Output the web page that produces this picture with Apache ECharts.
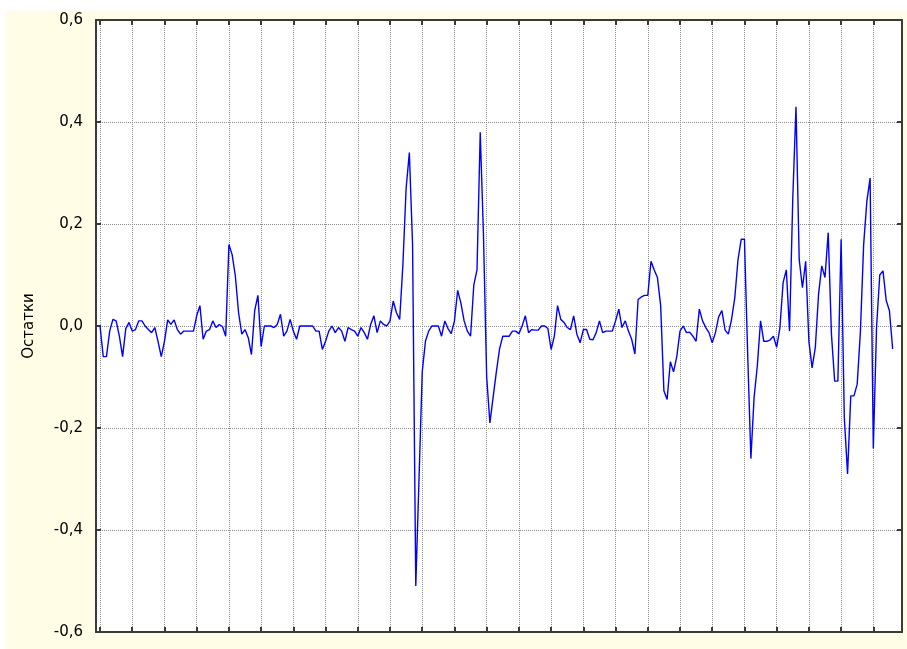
<!DOCTYPE html>
<html>
<head>
<meta charset="utf-8">
<script src="https://cdn.jsdelivr.net/npm/echarts@6/dist/echarts.min.js"></script>
<style>
html,body{margin:0;padding:0;background:#ffffff;}
#wrap{position:relative;width:907px;height:649px;background:#ffffff;overflow:hidden;}
#chart{position:absolute;left:6px;top:11px;width:901px;height:638px;}
</style>
</head>
<body>
<div id="wrap"><div id="chart"></div></div>
<script>
const residuals = [
  0.0, -0.06, -0.06, -0.01, 0.013, 0.01, -0.02, -0.06, -0.005, 0.007,
  -0.01, -0.007, 0.01, 0.01, 0.0, -0.007, -0.013, -0.003, -0.03, -0.06,
  -0.03, 0.012, 0.003, 0.012, -0.007, -0.016, -0.01, -0.01, -0.01, -0.01,
  0.02, 0.04, -0.026, -0.01, -0.007, 0.01, -0.003, 0.003, -0.001, -0.02,
  0.16, 0.14, 0.098, 0.026, -0.016, -0.007, -0.023, -0.056, 0.03, 0.06,
  -0.04, 0.0, 0.0, 0.0, -0.003, 0.003, 0.023, -0.02, -0.01, 0.013,
  -0.01, -0.026, 0.0, 0.0, 0.0, 0.0, 0.0, -0.01, -0.01, -0.046,
  -0.03, -0.01, 0.0, -0.013, -0.003, -0.01, -0.03, -0.003, -0.007, -0.01,
  -0.02, -0.003, -0.013, -0.026, 0.003, 0.02, -0.013, 0.01, 0.003, 0.0,
  0.01, 0.049, 0.026, 0.013, 0.12, 0.27, 0.34, 0.16, -0.51, -0.3,
  -0.09, -0.03, -0.01, 0.0, 0.0, 0.0, -0.02, 0.01, -0.005, -0.015,
  0.01, 0.07, 0.045, 0.01, -0.01, -0.02, 0.08, 0.11, 0.38, 0.18,
  -0.1, -0.19, -0.14, -0.09, -0.045, -0.02, -0.02, -0.02, -0.01, -0.01,
  -0.015, 0.0, 0.02, -0.013, -0.007, -0.008, -0.008, 0.0, 0.0, -0.005,
  -0.046, -0.02, 0.04, 0.013, 0.007, -0.003, -0.007, 0.02, -0.016, -0.033,
  -0.007, -0.007, -0.026, -0.027, -0.013, 0.01, -0.013, -0.01, -0.01, -0.01,
  0.01, 0.033, -0.003, 0.01, -0.01, -0.026, -0.055, 0.052, 0.057, 0.06,
  0.06, 0.127, 0.11, 0.095, 0.04, -0.127, -0.144, -0.07, -0.09, -0.06,
  -0.01, 0.0, -0.013, -0.012, -0.02, -0.03, 0.033, 0.01, -0.003, -0.013,
  -0.033, -0.013, 0.018, 0.03, -0.008, -0.016, 0.013, 0.055, 0.13, 0.17,
  0.17, -0.054, -0.26, -0.14, -0.078, 0.01, -0.03, -0.03, -0.027, -0.02,
  -0.042, -0.004, 0.085, 0.11, -0.01, 0.25, 0.43, 0.13, 0.075, 0.127,
  -0.03, -0.082, -0.042, 0.062, 0.118, 0.095, 0.183, -0.016, -0.108, -0.108,
  0.17, -0.18, -0.29, -0.137, -0.137, -0.114, -0.01, 0.16, 0.245, 0.29,
  -0.24, -0.003, 0.1, 0.108, 0.05, 0.03, -0.045
];
// Vertical grid positions (observation numbers)
const xTicks = [0,10,20,30,40,50,60,70,80,90,100,110,120,130,140,150,160,170,180,190,200,210,220,230,240];
// Y tick labels
const yTickLabels = ['-0,6','-0,4','-0,2','0,0','0,2','0,4','0,6'];
const yName = 'Остатки';

const seriesData = residuals.map((v, i) => [i, v]);

const frameColor = '#3a3a3a';
const gridColor = '#8c8c8c';
const X_MIN = -1.25, X_MAX = 248.9;

const chart = echarts.init(document.getElementById('chart'), null, {renderer: 'canvas'});
chart.setOption({
  animation: false,
  backgroundColor: '#fffde6',
  grid: {left: 90, top: 9, right: 5, bottom: 17, show: true, backgroundColor: '#ffffff', borderWidth: 0},
  xAxis: [
    {
      type: 'value', position: 'bottom', min: X_MIN, max: X_MAX,
      axisLine: {show: true, onZero: false, lineStyle: {color: frameColor, width: 2}},
      axisTick: {show: true, inside: true, length: 5, customValues: xTicks, lineStyle: {color: frameColor, width: 2}},
      axisLabel: {show: false},
      splitLine: {show: true, lineStyle: {color: gridColor, width: 1, type: [1, 1]}}
    },
    {
      type: 'value', position: 'top', min: X_MIN, max: X_MAX,
      axisLine: {show: true, onZero: false, lineStyle: {color: frameColor, width: 2}},
      axisTick: {show: true, inside: true, length: 5, customValues: xTicks, lineStyle: {color: frameColor, width: 2}},
      axisLabel: {show: false},
      splitLine: {show: false}
    }
  ],
  yAxis: [
    {
      type: 'value', position: 'left', min: -0.6, max: 0.6, interval: 0.2,
      name: yName, nameLocation: 'middle', nameGap: 59,
      nameTextStyle: {fontFamily: 'DejaVu Sans', fontSize: 15, color: '#000000'},
      axisLine: {show: true, onZero: false, lineStyle: {color: frameColor, width: 2}},
      axisTick: {show: true, inside: true, length: 5, lineStyle: {color: frameColor, width: 2}},
      axisLabel: {
        margin: 13, fontFamily: 'DejaVu Sans', fontSize: 15, color: '#000000',
        formatter: function (v) { return yTickLabels[Math.round((v + 0.6) / 0.2)]; }
      },
      splitLine: {show: true, lineStyle: {color: gridColor, width: 1, type: [1, 1]}}
    },
    {
      type: 'value', position: 'right', min: -0.6, max: 0.6, interval: 0.2,
      axisLine: {show: true, onZero: false, lineStyle: {color: frameColor, width: 2}},
      axisTick: {show: true, inside: true, length: 5, lineStyle: {color: frameColor, width: 2}},
      axisLabel: {show: false},
      splitLine: {show: false}
    }
  ],
  series: [{
    type: 'line',
    xAxisIndex: 0, yAxisIndex: 0,
    data: seriesData,
    showSymbol: false,
    symbol: 'none',
    lineStyle: {color: '#0000ff', width: 1.4},
    z: 5
  }]
});
</script>
</body>
</html>
